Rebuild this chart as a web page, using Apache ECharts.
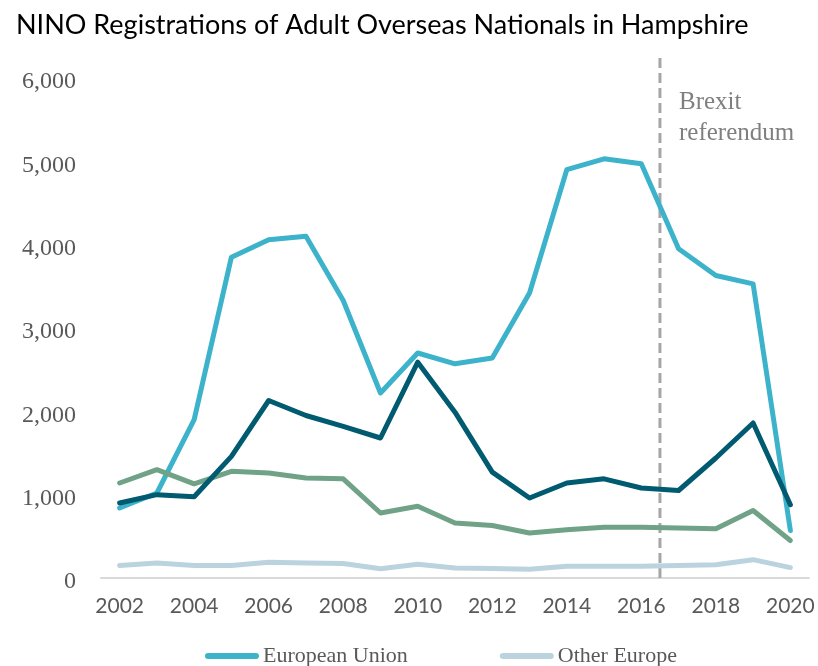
<!DOCTYPE html>
<html>
<head>
<meta charset="utf-8">
<script src="https://cdn.jsdelivr.net/npm/echarts@6/dist/echarts.min.js"></script>
<style>
  html, body { margin: 0; padding: 0; background: #ffffff; }
  #chart { width: 818px; height: 666px; }
</style>
</head>
<body>
<div id="chart"></div>
<script>
// Registration years
const years = ['2002','2003','2004','2005','2006','2007','2008','2009','2010','2011',
               '2012','2013','2014','2015','2016','2017','2018','2019','2020'];

// NINO registrations by nationality group
const europeanUnion = [840, 1020, 1900, 3850, 4060, 4100, 3330, 2220, 2700, 2570,
                       2640, 3420, 4900, 5030, 4970, 3950, 3630, 3530, 570];
const otherEurope   = [150, 180, 150, 150, 190, 180, 175, 110, 165, 120,
                       115, 105, 140, 140, 140, 150, 160, 220, 125];
const asia          = [1140, 1300, 1130, 1280, 1260, 1200, 1190, 780, 860, 660,
                       630, 540, 580, 610, 610, 600, 590, 810, 450];
const restOfWorld   = [900, 1000, 975, 1460, 2130, 1950, 1820, 1680, 2590, 1990,
                       1270, 960, 1140, 1190, 1080, 1050, 1440, 1860, 880];

// Y axis ticks
const yTicks = [0, 1000, 2000, 3000, 4000, 5000, 6000];

// Brexit referendum (June 2016) marker
const referendumYear = 2016.5;
const referendumLabel = ['Brexit', 'referendum'];

const chart = echarts.init(document.getElementById('chart'));

const pill = 'path://M3,0 H51 A3,3 0 0 1 51,6 H3 A3,3 0 0 1 3,0 Z';

function lineSeries(name, data, color) {
  return {
    name: name,
    type: 'line',
    data: data,
    symbol: 'none',
    lineStyle: { color: color, width: 5, cap: 'round', join: 'round' },
    itemStyle: { color: color },
    emphasis: { disabled: true }
  };
}

chart.setOption({
  animation: false,
  title: {
    text: 'NINO Registrations of Adult Overseas Nationals in Hampshire',
    left: 11,
    top: 7,
    textStyle: { fontFamily: 'Lato', fontWeight: 'normal', fontSize: 27, color: '#000000' }
  },
  legend: {
    data: ['European Union', 'Other Europe'],
    bottom: -6,
    left: 200,
    icon: pill,
    itemWidth: 54,
    itemHeight: 6,
    itemGap: 92,
    textStyle: { fontFamily: 'Liberation Serif', fontSize: 22, color: '#595959', padding: [0, 0, 0, -1] }
  },
  grid: { left: 101, right: 9, top: 78, bottom: 88 },
  xAxis: [
    {
      type: 'category',
      data: years,
      boundaryGap: true,
      axisLine: { lineStyle: { color: '#D9D9D9', width: 2 } },
      axisTick: { show: false },
      axisLabel: { interval: 1, margin: 18, fontFamily: 'Lato', fontSize: 21, color: '#595959' }
    },
    {
      type: 'value',
      min: 2001.5,
      max: 2020.5,
      show: false
    }
  ],
  yAxis: {
    type: 'value',
    min: yTicks[0],
    max: yTicks[yTicks.length - 1],
    interval: 1000,
    splitLine: { show: false },
    axisLine: { show: false },
    axisTick: { show: false },
    axisLabel: {
      margin: 25,
      formatter: v => '{t|' + v.toLocaleString('en-US') + '}',
      rich: {
        t: {
          fontFamily: 'Liberation Serif',
          fontSize: 24,
          color: '#595959',
          padding: [8, 0, 0, 0]
        }
      }
    }
  },
  series: [
    lineSeries('European Union', europeanUnion, '#3DB3CB'),
    lineSeries('Other Europe', otherEurope, '#BBD3DE'),
    lineSeries('Asia', asia, '#70A287'),
    lineSeries('Rest of the World', restOfWorld, '#005A70'),
    {
      name: 'Brexit referendum',
      type: 'line',
      xAxisIndex: 1,
      clip: false,
      silent: true,
      symbol: 'none',
      z: 1,
      data: [[referendumYear, 0], [referendumYear, 6300]],
      lineStyle: { color: '#A6A6A6', width: 3, type: [10, 5] }
    }
  ],
  graphic: [
    {
      type: 'text',
      left: 679,
      top: 87,
      style: {
        text: referendumLabel.join('\n'),
        fontFamily: 'Liberation Serif',
        fontSize: 25,
        lineHeight: 31,
        fill: '#7F7F7F'
      }
    }
  ]
});
</script>
</body>
</html>
